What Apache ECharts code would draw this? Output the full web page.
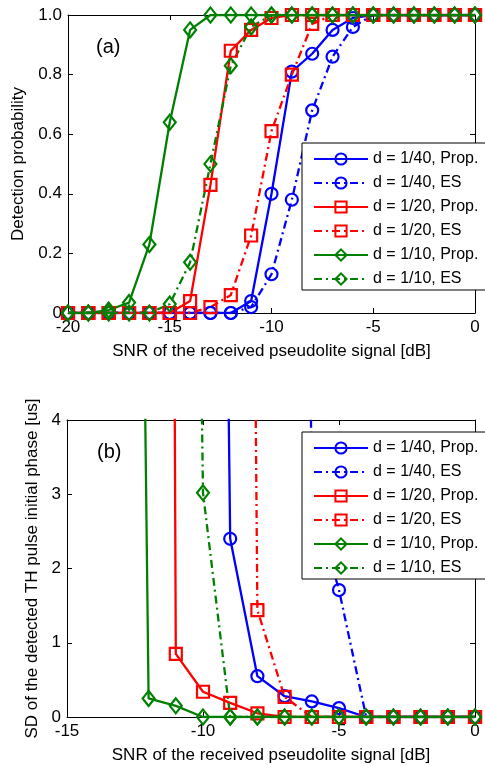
<!DOCTYPE html>
<html><head><meta charset="utf-8">
<script src="https://cdn.jsdelivr.net/npm/echarts@6/dist/echarts.min.js"></script>
<style>html,body{margin:0;padding:0;background:#fff}#c{width:485px;height:766px}</style>
</head><body><div id="c"></div>
<script>
// ---- Data: panel (a) detection probability ----
const snrA = [-20,-19,-18,-17,-16,-15,-14,-13,-12,-11,-10,-9,-8,-7,-6,-5,-4,-3,-2,-1,0];
const pd40Prop = [0,0,0,0,0,0,0,0,0,0.04,0.40,0.81,0.87,0.95,0.99,1,1,1,1,1,1];
const pd40ES   = [0,0,0,0,0,0,0,0,0,0.02,0.13,0.38,0.68,0.86,0.96,1,1,1,1,1,1];
const pd20Prop = [0,0,0,0,0,0,0.04,0.43,0.88,0.95,0.99,1,1,1,1,1,1,1,1,1,1];
const pd20ES   = [0,0,0,0,0,0,0,0.02,0.06,0.26,0.61,0.80,0.97,1,1,1,1,1,1,1,1];
const pd10Prop = [0,0,0.01,0.035,0.23,0.64,0.95,1,1,1,1,1,1,1,1,1,1,1,1,1,1];
const pd10ES   = [0,0,0,0,0,0.03,0.17,0.50,0.83,0.96,1,1,1,1,1,1,1,1,1,1,1];
// ---- Data: panel (b) SD of detected TH pulse initial phase ----
const snrB = [-15,-14,-13,-12,-11,-10,-9,-8,-7,-6,-5,-4,-3,-2,-1,0];
const sd40Prop = [null,null,null,null,null,33,2.40,0.55,0.28,0.21,0.12,0,0,0,0,0];
const sd40ES   = [null,null,null,null,null,null,null,null,36,3.0,1.71,0,0,0,0,0];
const sd20Prop = [null,null,null,86,0.85,0.34,0.19,0.05,0,0,0,0,0,0,0,0];
const sd20ES   = [null,null,null,null,null,null,44,1.44,0.27,0,0,0,0,0,0,0];
const sd10Prop = [null,null,31,0.25,0.15,0,0,0,0,0,0,0,0,0,0,0];
const sd10ES   = [null,null,null,null,29.5,3.02,0,0,0,0,0,0,0,0,0,0];
// ---- Labels ----
const names = ['d = 1/40, Prop.','d = 1/40, ES','d = 1/20, Prop.','d = 1/20, ES','d = 1/10, Prop.','d = 1/10, ES'];
const xTitle = 'SNR of the received pseudolite signal [dB]';
const yTitleA = 'Detection probability';
const yTitleB = 'SD of the detected TH pulse initial phase [us]';

const FONT = '"Liberation Sans", Arial, Helvetica, sans-serif';
const BLUE = '#0000ff', RED = '#ff0000', GREEN = '#008000';
const DASHDOT = [8,4,2,4];
const styles = [
  {c:BLUE, s:'circle', z:12, d:'solid'},
  {c:BLUE, s:'circle', z:12, d:DASHDOT},
  {c:RED, s:'rect', z:12, d:'solid'},
  {c:RED, s:'rect', z:12, d:DASHDOT},
  {c:GREEN, s:'diamond', z:[12,15], d:'solid'},
  {c:GREEN, s:'diamond', z:[12,15], d:DASHDOT}
];

function mk(i, xs, ys, ax) {
  const st = styles[i];
  return {
    type:'line', name:names[i], xAxisIndex:ax, yAxisIndex:ax,
    data: xs.map((x,k)=>[x, ys[k]]),
    symbol: st.s, symbolSize: st.z, showAllSymbol:true,
    lineStyle:{color:st.c, width:2.3, type:st.d},
    itemStyle:{color:'rgba(0,0,0,0)', borderColor:st.c, borderWidth:2.2},
    emphasis:{disabled:true}, clip:true, animation:false, connectNulls:false
  };
}
const seriesA = [pd40Prop,pd40ES,pd20Prop,pd20ES,pd10Prop,pd10ES];
const seriesB = [sd40Prop,sd40ES,sd20Prop,sd20ES,sd10Prop,sd10ES];

const lbl = {fontFamily:FONT, fontSize:17, color:'#000'};
function xAx(grid, min, max, pos, showName) {
  return {type:'value', gridIndex:grid, min:min, max:max, interval:5, position:pos,
    axisLine:{show:true, onZero:false, lineStyle:{color:'#000', width:1}},
    axisTick:{show:true, inside:true, length:5, lineStyle:{color:'#000'}},
    axisLabel:{show:pos==='bottom', ...lbl, margin:6},
    splitLine:{show:false},
    name: showName ? xTitle : '', nameLocation:'middle', nameGap:30, nameTextStyle:lbl};
}
function yAx(grid, min, max, itv, pos, name, gap, fmt) {
  return {type:'value', gridIndex:grid, min:min, max:max, interval:itv, position:pos,
    axisLine:{show:true, onZero:false, lineStyle:{color:'#000', width:1}},
    axisTick:{show:true, inside:true, length:5, lineStyle:{color:'#000'}},
    axisLabel:{show:pos==='left', ...lbl, margin:6, formatter:fmt},
    splitLine:{show:false},
    name: name, nameLocation:'middle', nameGap:gap, nameTextStyle:lbl};
}
const legendBase = {
  orient:'vertical', left:302, itemWidth:54, itemHeight:14, itemGap:8,
  padding:[8,10,3,11], borderColor:'#000', borderWidth:1, backgroundColor:'#fff',
  textStyle:{fontFamily:FONT, fontSize:16, color:'#000'}, selectedMode:false,
  data:names
};

const chart = echarts.init(document.getElementById('c'), null, {renderer:'canvas'});
chart.setOption({
  animation:false, backgroundColor:'#fff',
  grid:[{left:68, top:15, width:407, height:298}, {left:67, top:420, width:408, height:297}],
  xAxis:[xAx(0,-20,0,'bottom',true), xAx(0,-20,0,'top',false), xAx(1,-15,0,'bottom',true), xAx(1,-15,0,'top',false)],
  yAxis:[
    yAx(0,0,1,0.2,'left',yTitleA,41,v=>v===0?'0':v.toFixed(1)),
    yAx(0,0,1,0.2,'right','',0),
    yAx(1,0,4,1,'left',yTitleB,22,v=>String(v)),
    yAx(1,0,4,1,'right','',0)
  ],
  legend:[{...legendBase, top:143}, {...legendBase, top:432}],
  graphic:[
    {type:'text', left:96, top:37, style:{text:'(a)', font:'20px '+FONT, fill:'#000'}},
    {type:'text', left:97, top:442, style:{text:'(b)', font:'20px '+FONT, fill:'#000'}}
  ],
  series:[
    ...seriesA.map((a,i)=>mk(i, snrA, a, 0)),
    ...seriesB.map((a,i)=>mk(i, snrB, a, 2))
  ]
});
</script></body></html>
